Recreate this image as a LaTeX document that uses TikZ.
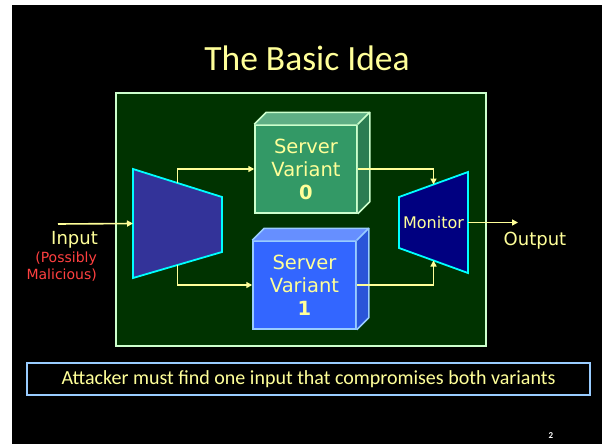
\documentclass[tikz,border=0pt]{standalone}
\usepackage{fontspec}
\setmainfont{DejaVu Sans}
\newfontfamily\calibri{Carlito}
\usetikzlibrary{arrows.meta,calc}

\definecolor{slideyellow}{HTML}{FFFF99}
\definecolor{framegreen}{HTML}{003300}
\definecolor{palegreen}{HTML}{CCFFCC}
\definecolor{paleblue}{HTML}{99CCFF}
\definecolor{gatecyan}{HTML}{00FFFF}
\definecolor{splitblue}{HTML}{333399}
\definecolor{monnavy}{HTML}{000080}
\definecolor{alertred}{HTML}{FF4040}
\definecolor{srvgreen}{HTML}{339966}
\definecolor{srvgreentop}{HTML}{5FAF85}
\definecolor{srvgreenside}{HTML}{2B7D52}
\definecolor{srvblue}{HTML}{3366FF}
\definecolor{srvbluetop}{HTML}{668FFF}
\definecolor{srvblueside}{HTML}{2A55D8}

\tikzset{
  link/.style={draw=slideyellow, line width=1.6pt, -{Triangle[width=6pt,length=6pt]}},
  server/.style={line width=1.5pt, minimum width=102pt, minimum height=88pt, inner sep=0pt,
                 text=slideyellow, align=center, font=\fontsize{19.5}{23}\selectfont},
  yellowtext/.style={text=slideyellow, font=\fontsize{18}{20}\selectfont},
  gate/.style={draw=gatecyan, line width=1.8pt, line join=miter}
}

\begin{document}
\begin{tikzpicture}[x=1pt,y=-1pt]
			% Slide background
			\fill[white] (0,0) rectangle (604,444);
			\fill[black] (12,5) rectangle (602,444);
			
			\node[text=slideyellow, font=\calibri\fontsize{35.5}{40}\selectfont] (title) at (307,58) {The Basic Idea};
			
			% Green frame
			\node[draw=palegreen, fill=framegreen, line width=2pt, minimum width=370pt, minimum height=253pt] (frame) at (301,219.5) {};
			
			% Splitter (left trapezoid)
			\coordinate (s1) at (133,169);
			\coordinate (s2) at (222,197);
			\coordinate (s3) at (222,252);
			\coordinate (s4) at (133,278);
			\fill[splitblue] (s1) -- (s2) -- (s3) -- (s4) -- cycle;
			\draw[gate] (s1) -- (s2) -- (s3) -- (s4) -- cycle;
			\coordinate (sIn) at ($(s1)!0.5!(s4)$);
			\coordinate (sTop) at ($(s1)!0.5!(s2)$);
			\coordinate (sBot) at ($(s4)!0.5!(s3)$);
			
			% Monitor (right trapezoid)
			\coordinate (m1) at (399,197);
			\coordinate (m2) at (468,172);
			\coordinate (m3) at (468,273);
			\coordinate (m4) at (399,248);
			\fill[monnavy] (m1) -- (m2) -- (m3) -- (m4) -- cycle;
			\draw[gate] (m1) -- (m2) -- (m3) -- (m4) -- cycle;
			\coordinate (mTop) at ($(m1)!0.5!(m2)$);
			\coordinate (mBot) at ($(m4)!0.5!(m3)$);
			\coordinate (mOut) at ($(m2)!0.5!(m3)$);
			\node[text=slideyellow, font=\fontsize{16}{18}\selectfont, inner sep=0pt] (mon) at (433.5,223) {Monitor};
			
			% Server variants
			\node[server, fill=srvgreen, draw=palegreen] (sv0) at (306,169) {Server\\Variant\\\textbf{0}};
			\fill[srvgreentop] (sv0.north west) -- ++(12,-12) -- ($(sv0.north east)+(12,-12)$) -- (sv0.north east) -- cycle;
			\fill[srvgreenside] (sv0.north east) -- ++(12,-12) -- ($(sv0.south east)+(12,-12)$) -- (sv0.south east) -- cycle;
			\draw[palegreen, line width=1.5pt, line join=round] (sv0.north west) -- ++(12,-12) -- ($(sv0.north east)+(12,-12)$) -- ($(sv0.south east)+(12,-12)$) -- (sv0.south east);
			\draw[palegreen, line width=1.5pt] (sv0.north east) -- ++(12,-12);
			
			\node[server, fill=srvblue, draw=paleblue, minimum width=103pt] (sv1) at (304.5,285) {Server\\Variant\\\textbf{1}};
			\fill[srvbluetop] (sv1.north west) -- ++(12,-12) -- ($(sv1.north east)+(12,-12)$) -- (sv1.north east) -- cycle;
			\fill[srvblueside] (sv1.north east) -- ++(12,-12) -- ($(sv1.south east)+(12,-12)$) -- (sv1.south east) -- cycle;
			\draw[paleblue, line width=1.5pt, line join=round] (sv1.north west) -- ++(12,-12) -- ($(sv1.north east)+(12,-12)$) -- ($(sv1.south east)+(12,-12)$) -- (sv1.south east);
			\draw[paleblue, line width=1.5pt] (sv1.north east) -- ++(12,-12);
			
			% Connectors
			\coordinate (inStart) at (58,224);
			\coordinate (outEnd) at (518,222.5);
			\draw[link] (inStart) -- (sIn);
			\draw[link] (sTop) |- (sv0.west);
			\draw[link] (sBot) |- (sv1.west);
			\draw[link] (sv0.east) -| (mTop);
			\draw[link] (sv1.east) -| (mBot);
			\draw[link] (mOut) -- (outEnd);
			
			% Labels
			\node[yellowtext, anchor=east, inner sep=0pt] (inputlbl) at (98,240) {Input};
			\node[text=alertred, font=\fontsize{14}{17}\selectfont, align=right, anchor=north east, inner sep=0pt] (malicious) at (97,252) {(Possibly\\Malicious)};
			\node[yellowtext] (outputlbl) at (535,241) {Output};
			
			% Bottom note
			\node[draw=paleblue, line width=1.5pt, minimum width=563pt, minimum height=32pt, text=slideyellow, font=\calibri\fontsize{20}{23}\selectfont] (note) at (308.5,379) {Attacker must find one input that compromises both variants};
			
			\node[text=white, font=\calibri\bfseries\fontsize{9}{10}\selectfont] (pagenum) at (551,436) {2};
		\end{tikzpicture}
\end{document}
